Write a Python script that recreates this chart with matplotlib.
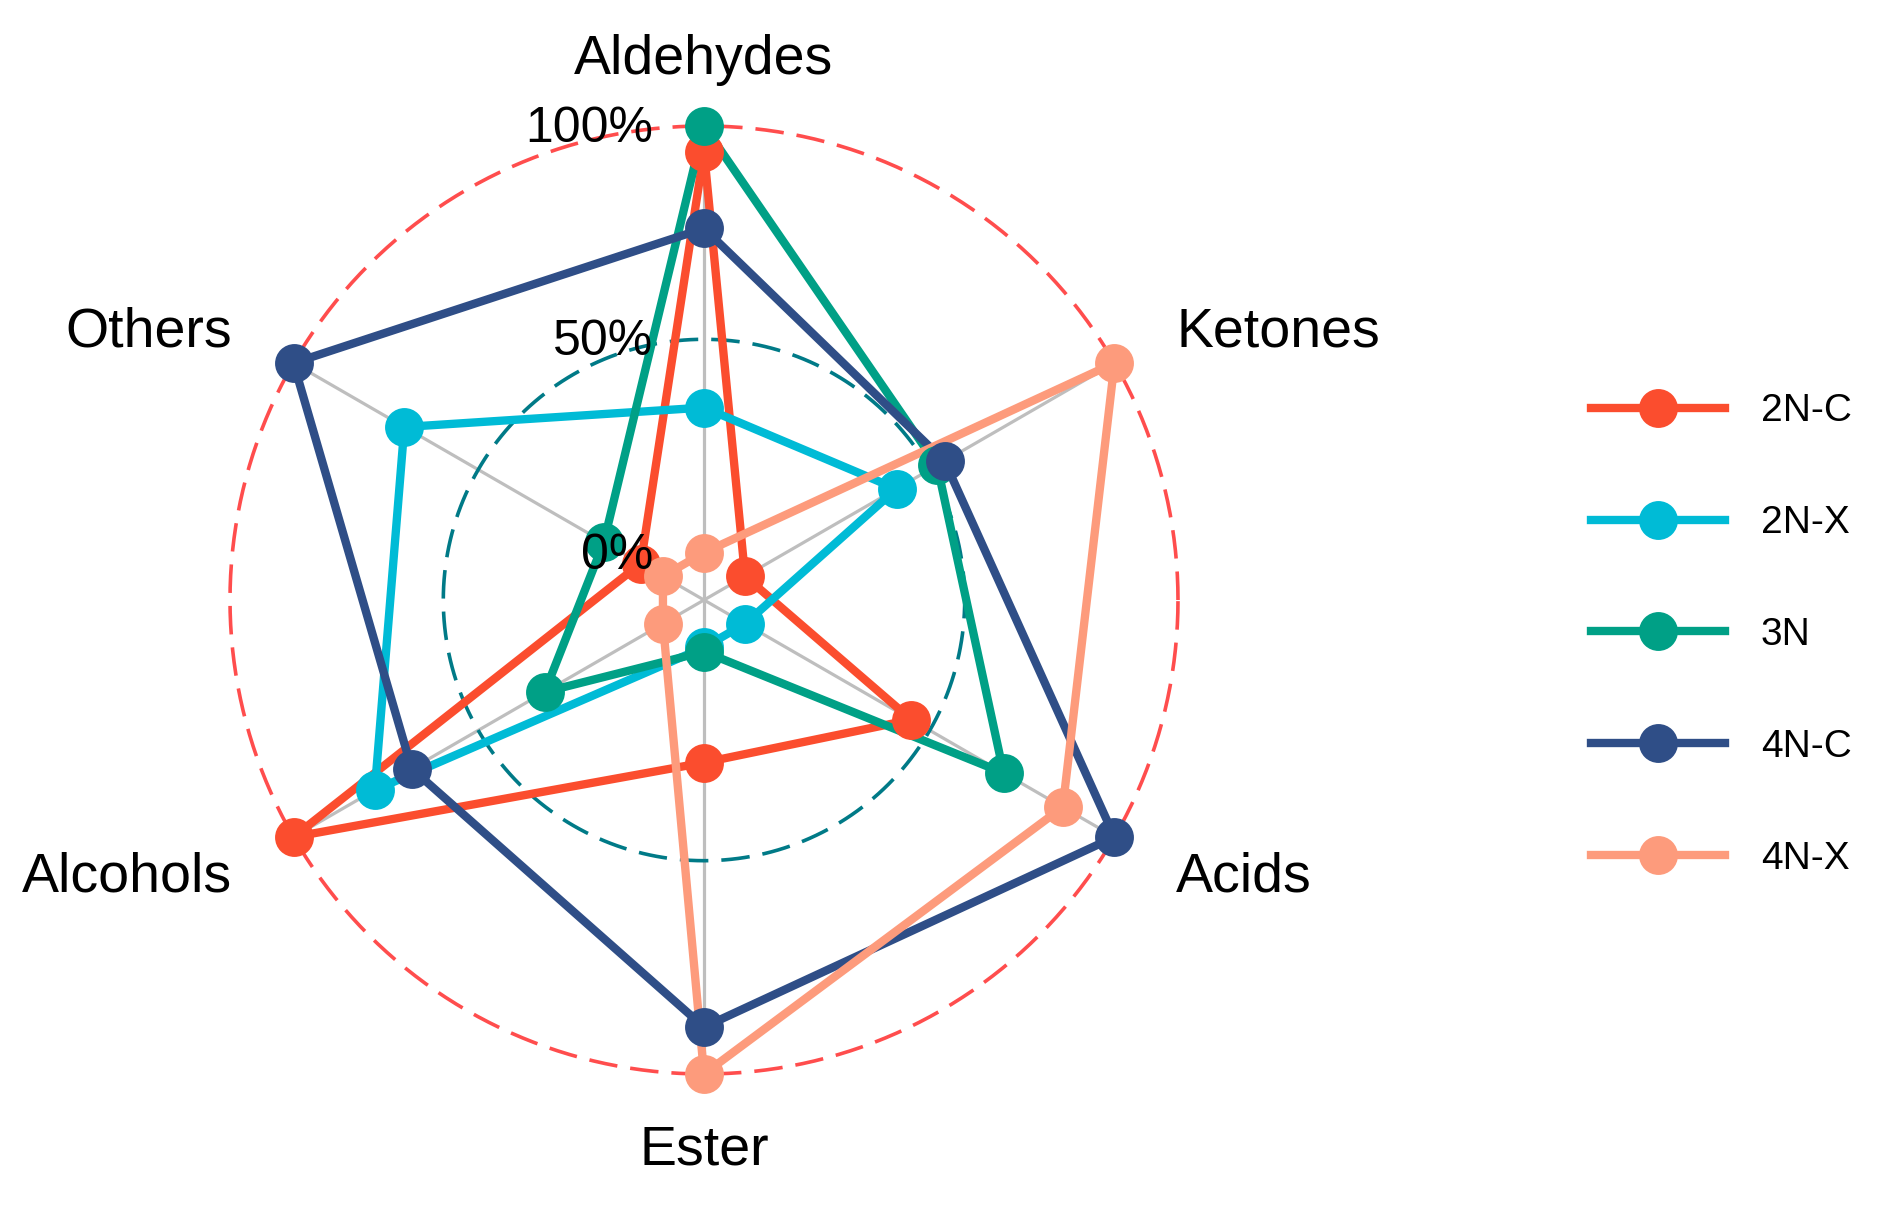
import numpy as np
import matplotlib
matplotlib.use("Agg")
import matplotlib.pyplot as plt
from matplotlib.lines import Line2D

plt.rcParams['font.family'] = ['Liberation Sans', 'DejaVu Sans']

categories = ["Aldehydes", "Ketones", "Acids", "Ester", "Alcohols", "Others"]
series_names = ["2N-C", "2N-X", "3N", "4N-C", "4N-X"]
v_2NC = [0.94, 0.00, 0.45, 0.27, 1.00, 0.06]
v_2NX = [0.34, 0.41, 0.00, 0.00, 0.78, 0.70]
v_3N = [1.00, 0.52, 0.70, 0.01, 0.32, 0.16]
v_4NC = [0.76, 0.54, 1.00, 0.89, 0.68, 1.00]
v_4NX = [0.00, 1.00, 0.86, 1.00, 0.00, 0.00]
series_values = [v_2NC, v_2NX, v_3N, v_4NC, v_4NX]
colors = ["#FB4D2E", "#00BBD6", "#00A086", "#2F4E87", "#FD9B7C"]
grid_values = [0.0, 0.5, 1.0]
grid_labels = ["0%", "50%", "100%"]

W, H = 1893, 1209
fig = plt.figure(figsize=(W / 100, H / 100), dpi=100)
ax = fig.add_axes([0, 0, 1, 1])
R_px = 474.0
cx, cy = 704.0, 600.0
ax.set_xlim(-cx / R_px, (W - cx) / R_px)
ax.set_ylim(-(H - cy) / R_px, cy / R_px)
ax.set_aspect('equal')
ax.axis('off')

centre_off = 1.0 / 9.0


def rad(v):
    return (np.asarray(v, dtype=float) + centre_off) / (1.0 + centre_off)


n = len(categories)
angles = np.pi / 2 - np.arange(n) * 2 * np.pi / n

# axis lines
for a in angles:
    ax.plot([0, np.cos(a)], [0, np.sin(a)], color="#BEBEBE", lw=2.3, zorder=1,
            solid_capstyle='butt')

# grid circles
t = np.linspace(0, 2 * np.pi, 721)
rm = rad(0.5)
ax.plot(rm * np.cos(t), rm * np.sin(t), color="#007A87", lw=2.6,
        dashes=(7.9, 3.6), zorder=1)
rM = rad(1.0)
ax.plot(rM * np.cos(t), rM * np.sin(t), color="#FF4D4D", lw=2.6,
        dashes=(7.9, 3.6), zorder=1)

# series lines
for vals, col in zip(series_values, colors):
    r = rad(vals)
    x = np.append(r * np.cos(angles), r[0] * np.cos(angles[0]))
    y = np.append(r * np.sin(angles), r[0] * np.sin(angles[0]))
    ax.plot(x, y, color=col, lw=6.0, zorder=3, solid_capstyle='round',
            solid_joinstyle='round')

# series points
for i, (vals, col) in enumerate(zip(series_values, colors)):
    r = rad(vals)
    ax.plot(r * np.cos(angles), r * np.sin(angles), 'o', color=col,
            markersize=28, markeredgewidth=0, zorder=5 + i)

# grid labels
for gv, gl in zip(grid_values, grid_labels):
    ax.text(-51 / R_px, rad(gv) - 3 / R_px, gl, ha='right', va='center',
            fontsize=36, color='black', zorder=20)

# axis labels
off = 1.15
for a, lab in zip(angles, categories):
    x, y = off * np.cos(a), off * np.sin(a) - 5 / R_px
    c = np.cos(a)
    if abs(c) < 1e-6:
        ha = 'center'
    elif c > 0:
        ha = 'left'
    else:
        ha = 'right'
    ax.text(x, y, lab, ha=ha, va='center', fontsize=40, color='black',
            zorder=20)

# legend
handles = [Line2D([0], [0], color=col, lw=6.0, marker='o', markersize=28,
                  markeredgewidth=0) for col in colors]
fs = 28
fspx = fs * 100 / 72
fig.legend(handles, series_names, loc='center left',
           bbox_to_anchor=(1591 / W, 1 - 635 / H), frameon=False,
           fontsize=fs, handlelength=134 / fspx, handletextpad=36 / fspx,
           labelspacing=1.95, borderpad=0, borderaxespad=0)

fig.savefig("out.png", dpi=100, facecolor='white')
